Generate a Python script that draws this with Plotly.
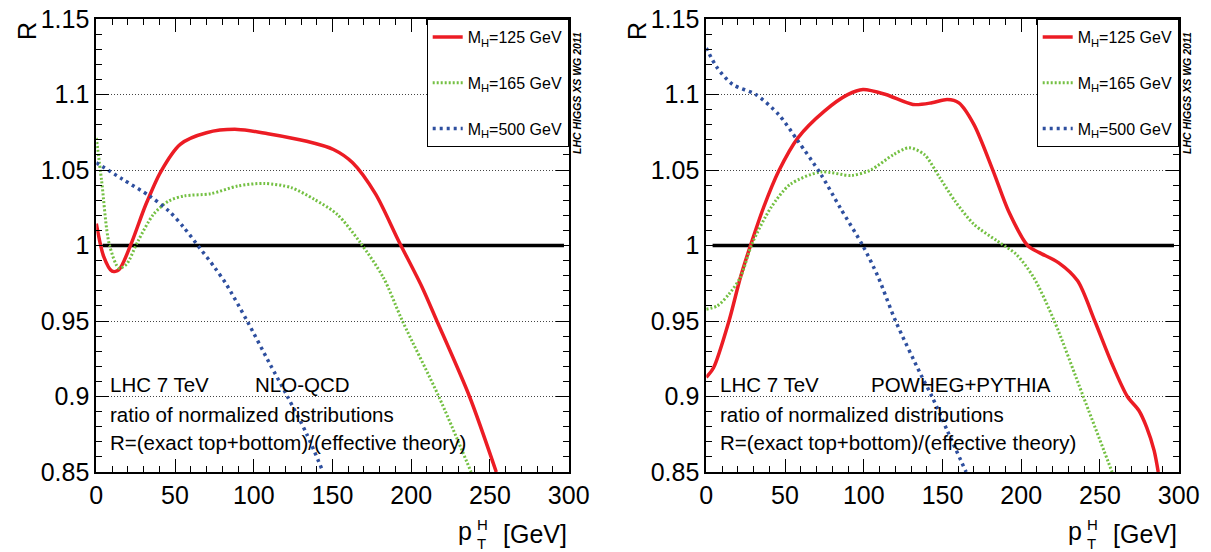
import plotly.graph_objects as go

# ---------------- data ----------------
# Left panel: NLO-QCD
nlo_x_125 = [0, 4.6, 10, 14.4, 21.7, 31.4, 41, 53.3, 70, 89.8, 109, 133.6, 150.6, 162.8, 177.4, 192, 206.6, 216.3, 237, 254]
nlo_y_125 = [1.0145, 0.993, 0.983, 0.984, 1.0, 1.027, 1.049, 1.067, 1.0747, 1.0769, 1.074, 1.069, 1.0636, 1.0548, 1.034, 1.003, 0.973, 0.950, 0.9, 0.85]

nlo_x_165 = [0, 3.4, 8.2, 14.4, 19.2, 26.5, 36.3, 46, 55.7, 72.7, 89.8, 106.8, 123.8, 138.4, 153, 167.6, 182.2, 194.4, 217.5, 238]
nlo_y_165 = [1.0713, 1.0427, 1.001, 0.985, 0.9876, 1.003, 1.0206, 1.0295, 1.0328, 1.0343, 1.0394, 1.0411, 1.0383, 1.0306, 1.0206, 1.002, 0.979, 0.950, 0.9, 0.85]

nlo_x_500 = [0, 16.8, 33.8, 46, 55.7, 65.5, 75.2, 82.5, 95.8, 110, 121.4, 133.6, 144]
nlo_y_500 = [1.0548, 1.0438, 1.0328, 1.0229, 1.0118, 0.9986, 0.9854, 0.9744, 0.95, 0.922, 0.9, 0.8752, 0.85]

# Right panel: POWHEG+PYTHIA
pw_x_125 = [0, 4.6, 14.4, 21.7, 29, 36.3, 46, 58.2, 75, 89.8, 99.5, 114, 131.2, 143.3, 153, 160.4, 170, 182.2, 191.9, 204.2, 211.5, 223.6, 235.8, 246.7, 257.7, 267.4, 274.7, 279.6, 284.4, 287]
pw_y_125 = [0.9127, 0.919, 0.95, 0.979, 1.003, 1.025, 1.0493, 1.0713, 1.089, 1.0999, 1.1033, 1.1, 1.0934, 1.0945, 1.0967, 1.0945, 1.0801, 1.0493, 1.0229, 0.9998, 0.9953, 0.9887, 0.9766, 0.95, 0.9215, 0.9, 0.8907, 0.8797, 0.8642, 0.85]

pw_x_165 = [0, 7, 14.4, 21.7, 29, 41, 53.3, 72.8, 92.2, 104.4, 119, 128.7, 138.4, 148.2, 157.9, 170, 184.7, 196.8, 207.8, 221, 239.4, 257.7]
pw_y_165 = [0.9578, 0.96, 0.9678, 0.979, 1.001, 1.025, 1.0405, 1.0487, 1.0464, 1.05, 1.0603, 1.0647, 1.0603, 1.045, 1.0295, 1.014, 1.003, 0.9942, 0.979, 0.95, 0.9, 0.85]

pw_x_500 = [0, 7, 16.8, 31.4, 46, 58.2, 72.8, 85, 99.5, 109.2, 120.2, 136, 143.3, 153, 165]
pw_y_500 = [1.1308, 1.1176, 1.1066, 1.1, 1.0867, 1.0692, 1.0471, 1.025, 0.9997, 0.979, 0.95, 0.915, 0.9, 0.8775, 0.85]

# reference line R = 1
ref_x = [4, 297]
ref_y = [1.0, 1.0]

series_names = ["M<sub>H</sub>=125 GeV", "M<sub>H</sub>=165 GeV", "M<sub>H</sub>=500 GeV"]

x_tickvals = [0, 50, 100, 150, 200, 250, 300]
x_ticktext = ["0", "50", "100", "150", "200", "250", "300"]
y_tickvals = [0.85, 0.9, 0.95, 1.0, 1.05, 1.1, 1.15]
y_ticktext = ["0.85", "0.9", "0.95", "1", "1.05", "1.1", "1.15"]

panel_labels = ["NLO-QCD", "POWHEG+PYTHIA"]

# ---------------- style ----------------
FONT = "Liberation Sans, Arial, Helvetica, sans-serif"
RED = "#ec1c24"
GREEN = "#74c043"
BLUE = "#2e4f9f"

W, H = 1211, 552
left_dom = [88.3 / W, 560.7 / W]
right_dom = [698.3 / W, 1170.7 / W]
y_dom = [1 - 464 / H, 1 - 11 / H]

fig = go.Figure()

styles = [
    dict(color=RED, width=3.5, dash="solid"),
    dict(color=GREEN, width=3, dash="2px,2px"),
    dict(color=BLUE, width=3.5, dash="3px,4px"),
]

panels = [
    ("x", "y", "legend", [(nlo_x_125, nlo_y_125), (nlo_x_165, nlo_y_165), (nlo_x_500, nlo_y_500)]),
    ("x2", "y2", "legend2", [(pw_x_125, pw_y_125), (pw_x_165, pw_y_165), (pw_x_500, pw_y_500)]),
]

for xa, ya, lg, curves in panels:
    fig.add_trace(go.Scatter(x=ref_x, y=ref_y, mode="lines", xaxis=xa, yaxis=ya,
                             line=dict(color="black", width=3.5), showlegend=False,
                             hoverinfo="skip"))
    for i, (cx, cy) in enumerate(curves):
        fig.add_trace(go.Scatter(x=cx, y=cy, mode="lines", xaxis=xa, yaxis=ya,
                                 name=series_names[i], legend=lg,
                                 legendgroup=f"{lg}_{i}",
                                 line=dict(shape="spline", smoothing=0.8, **styles[i])))

def xaxis_cfg(dom, anchor):
    return dict(domain=dom, anchor=anchor, range=[0, 300], tickmode="array",
                tickvals=x_tickvals, ticktext=x_ticktext, ticks="inside", ticklen=13,
                tickwidth=1.2, tickcolor="black", showline=True, linewidth=2,
                linecolor="black", mirror="ticks", showgrid=False, zeroline=False,
                automargin=False, ticklabeloverflow="allow",
                tickfont=dict(family=FONT, size=25, color="black"),
                minor=dict(tickmode="linear", tick0=0, dtick=10, ticks="inside",
                           ticklen=6, tickwidth=1, tickcolor="black", showgrid=False))

def yaxis_cfg(anchor):
    return dict(domain=y_dom, anchor=anchor, range=[0.85, 1.15], tickmode="array",
                tickvals=y_tickvals, ticktext=y_ticktext, ticks="inside", ticklen=13,
                tickwidth=1.2, tickcolor="black", showline=True, linewidth=2,
                linecolor="black", mirror="ticks", showgrid=True, gridcolor="#444444",
                gridwidth=1, griddash="1px,2px", zeroline=False,
                automargin=False, ticklabeloverflow="allow",
                tickfont=dict(family=FONT, size=25, color="black"),
                minor=dict(tickmode="linear", tick0=0.85, dtick=0.01, ticks="inside",
                           ticklen=6, tickwidth=1, tickcolor="black", showgrid=False))

legend_common = dict(yanchor="top", xanchor="right", bgcolor="white", bordercolor="black",
                     borderwidth=1, font=dict(family=FONT, size=16, color="black"),
                     tracegroupgap=22, itemwidth=30)

fig.update_layout(
    width=W, height=H, margin=dict(l=0, r=0, t=0, b=0, autoexpand=False),
    paper_bgcolor="white", plot_bgcolor="white",
    xaxis=xaxis_cfg(left_dom, "y"), yaxis=yaxis_cfg("x"),
    xaxis2=xaxis_cfg(right_dom, "y2"), yaxis2=yaxis_cfg("x2"),
    legend=dict(x=560.7 / W, y=y_dom[1], **legend_common),
    legend2=dict(x=1170.7 / W, y=y_dom[1], **legend_common),
    showlegend=True,
)

annotations = []
for k, (xa, ya, dom) in enumerate([("x", "y", left_dom), ("x2", "y2", right_dom)]):
    xd = f"{xa} domain"
    yd = f"{ya} domain"
    txt = dict(family=FONT, size=20.5, color="black")
    annotations += [
        dict(text="LHC 7 TeV", xref=xd, yref=yd, x=0.024, y=0.194, xanchor="left",
             yanchor="middle", showarrow=False, font=txt),
        dict(text=panel_labels[k], xref=xd, yref=yd, x=0.332 if k == 0 else 0.344, y=0.194,
             xanchor="left", yanchor="middle", showarrow=False, font=txt),
        dict(text="ratio of normalized distributions", xref=xd, yref=yd, x=0.024, y=0.128,
             xanchor="left", yanchor="middle", showarrow=False, font=txt),
        dict(text="R=(exact top+bottom)/(effective theory)", xref=xd, yref=yd, x=0.024,
             y=0.066, xanchor="left", yanchor="middle", showarrow=False, font=txt),
        # x-axis title p_T^H [GeV]
        dict(text="[GeV]", xref=xd, yref="paper", x=1.0, y=1 - 526 / H, xanchor="right",
             yanchor="middle", showarrow=False, font=dict(family=FONT, size=25, color="black")),
        dict(text="p", xref=xd, yref="paper", x=0.80, y=1 - 523 / H, xanchor="right",
             yanchor="middle", showarrow=False, font=dict(family=FONT, size=25, color="black")),
        dict(text="H", xref=xd, yref="paper", x=0.802, y=1 - 516 / H, xanchor="left",
             yanchor="middle", showarrow=False, font=dict(family=FONT, size=15, color="black")),
        dict(text="T", xref=xd, yref="paper", x=0.802, y=1 - 535 / H, xanchor="left",
             yanchor="middle", showarrow=False, font=dict(family=FONT, size=15, color="black")),
        # y-axis title
        dict(text="R", xref="paper", yref="paper", x=(dom[0] * W - 69.3) / W, y=1 - 23 / H,
             xanchor="center", yanchor="middle", textangle=-90, showarrow=False,
             font=dict(family=FONT, size=25, color="black")),
        # working group label
        dict(text="<b><i>LHC HIGGS XS WG 2011</i></b>", xref="paper", yref="paper",
             x=(dom[1] * W + 8.3) / W, y=1 - 85 / H, xanchor="center", yanchor="middle",
             textangle=-90, showarrow=False,
             font=dict(family=FONT, size=10.5, color="black")),
    ]

fig.update_layout(annotations=annotations)

fig.write_html("out.html")
